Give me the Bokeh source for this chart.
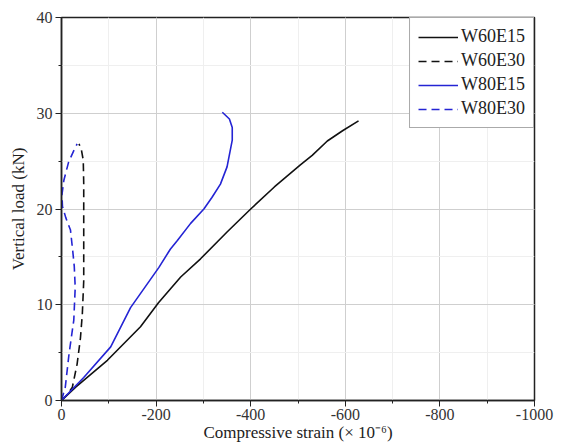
from bokeh.plotting import figure
from bokeh.models import Range1d, SingleIntervalTicker, Legend, LegendItem, CustomJSTickFormatter
from bokeh.embed import file_html
from bokeh.resources import INLINE

# W60E15 (black solid)
strain_w60e15 = [0, -30, -97, -167, -205, -252, -294, -350, -400, -450, -505, -530, -562, -595, -628]
load_w60e15 = [0, 1.4, 4.2, 7.7, 10.2, 12.9, 14.8, 17.6, 20.0, 22.3, 24.6, 25.6, 27.1, 28.2, 29.2]

# W60E30 (black dashed)
strain_w60e30 = [0, -12, -23, -33, -40, -44, -47, -47, -47, -47, -46, -42, -37]
load_w60e30 = [0, 0.6, 1.4, 3.8, 6.5, 9.0, 12.5, 15.7, 19.2, 22.6, 25.1, 26.2, 26.8]

# W80E15 (blue solid)
strain_w80e15 = [0, -47, -104, -146, -206, -230, -245, -273, -301, -318, -336, -350, -361, -361, -355, -340]
load_w80e15 = [0, 2.4, 5.6, 9.7, 13.9, 15.8, 16.7, 18.5, 20.0, 21.2, 22.6, 24.4, 27.2, 28.5, 29.4, 30.1]

# W80E30 (blue dashed)
strain_w80e30 = [0, -8, -16, -22, -26, -29, -27, -24, -19, -9, -2, -1, -5, -15, -26, -33]
load_w80e30 = [0, 1.4, 4.9, 7.0, 8.4, 11.8, 14.0, 15.5, 17.8, 19.1, 20.3, 21.5, 23.0, 24.9, 26.1, 26.8]

series_names = ["W60E15", "W60E30", "W80E15", "W80E30"]

FONT = "Liberation Serif"
BLUE = "#2424d4"

p = figure(width=563, height=445, output_backend="svg", toolbar_location=None,
           x_range=Range1d(0, -1000), y_range=Range1d(0, 40),
           min_border_left=61, min_border_right=29, min_border_top=17, min_border_bottom=45,
           background_fill_color="white", border_fill_color="white")

p.xaxis.ticker = SingleIntervalTicker(interval=200, num_minor_ticks=2)
p.yaxis.ticker = SingleIntervalTicker(interval=10, num_minor_ticks=2)
p.xaxis.formatter = CustomJSTickFormatter(code="return tick.toFixed(0);")
p.yaxis.formatter = CustomJSTickFormatter(code="return tick.toFixed(0);")

for g in (p.xgrid, p.ygrid):
    g.grid_line_color = "#cfcfcf"
    g.grid_line_width = 1
    g.minor_grid_line_color = "#efefef"
    g.minor_grid_line_width = 1

p.outline_line_color = "#222222"
p.outline_line_width = 1.5

for ax in (p.xaxis, p.yaxis):
    ax.axis_line_width = 1.5
    ax.axis_line_color = "#222222"
    ax.major_tick_out = 6
    ax.major_tick_in = 0
    ax.minor_tick_out = 3
    ax.minor_tick_in = 0
    ax.major_tick_line_color = "#222222"
    ax.minor_tick_line_color = "#222222"
    ax.major_label_text_font = FONT
    ax.major_label_text_font_size = "16px"
    ax.major_label_text_color = "#333333"
    ax.axis_label_text_font = FONT
    ax.axis_label_text_font_size = "17px"
    ax.axis_label_text_font_style = "normal"
    ax.axis_label_text_color = "#222222"

p.xaxis.major_label_standoff = 2
p.xaxis.axis_label_standoff = 0
p.yaxis.major_label_standoff = 3
p.yaxis.axis_label_standoff = 6
p.xaxis.axis_label = "Compressive strain (\u00d7 10\u207b\u2076)"
p.yaxis.axis_label = "Vertical load (kN)"

r1 = p.line(strain_w60e15, load_w60e15, line_color="#111111", line_width=1.6)
r2 = p.line(strain_w60e30, load_w60e30, line_color="#111111", line_width=1.6, line_dash="8 5")
r3 = p.line(strain_w80e15, load_w80e15, line_color=BLUE, line_width=1.6)
r4 = p.line(strain_w80e30, load_w80e30, line_color=BLUE, line_width=1.6, line_dash="8 5")

legend = Legend(items=[LegendItem(label=n, renderers=[r]) for n, r in zip(series_names, [r1, r2, r3, r4])],
                location="top_right", margin=0, padding=8, spacing=3,
                glyph_width=40, glyph_height=20, label_standoff=3,
                label_text_font=FONT, label_text_font_size="18px", label_text_color="#222222",
                border_line_color="#555555", border_line_width=1,
                background_fill_color="white", background_fill_alpha=1)
p.add_layout(legend)

open("out.html", "w").write(file_html(p, INLINE))
